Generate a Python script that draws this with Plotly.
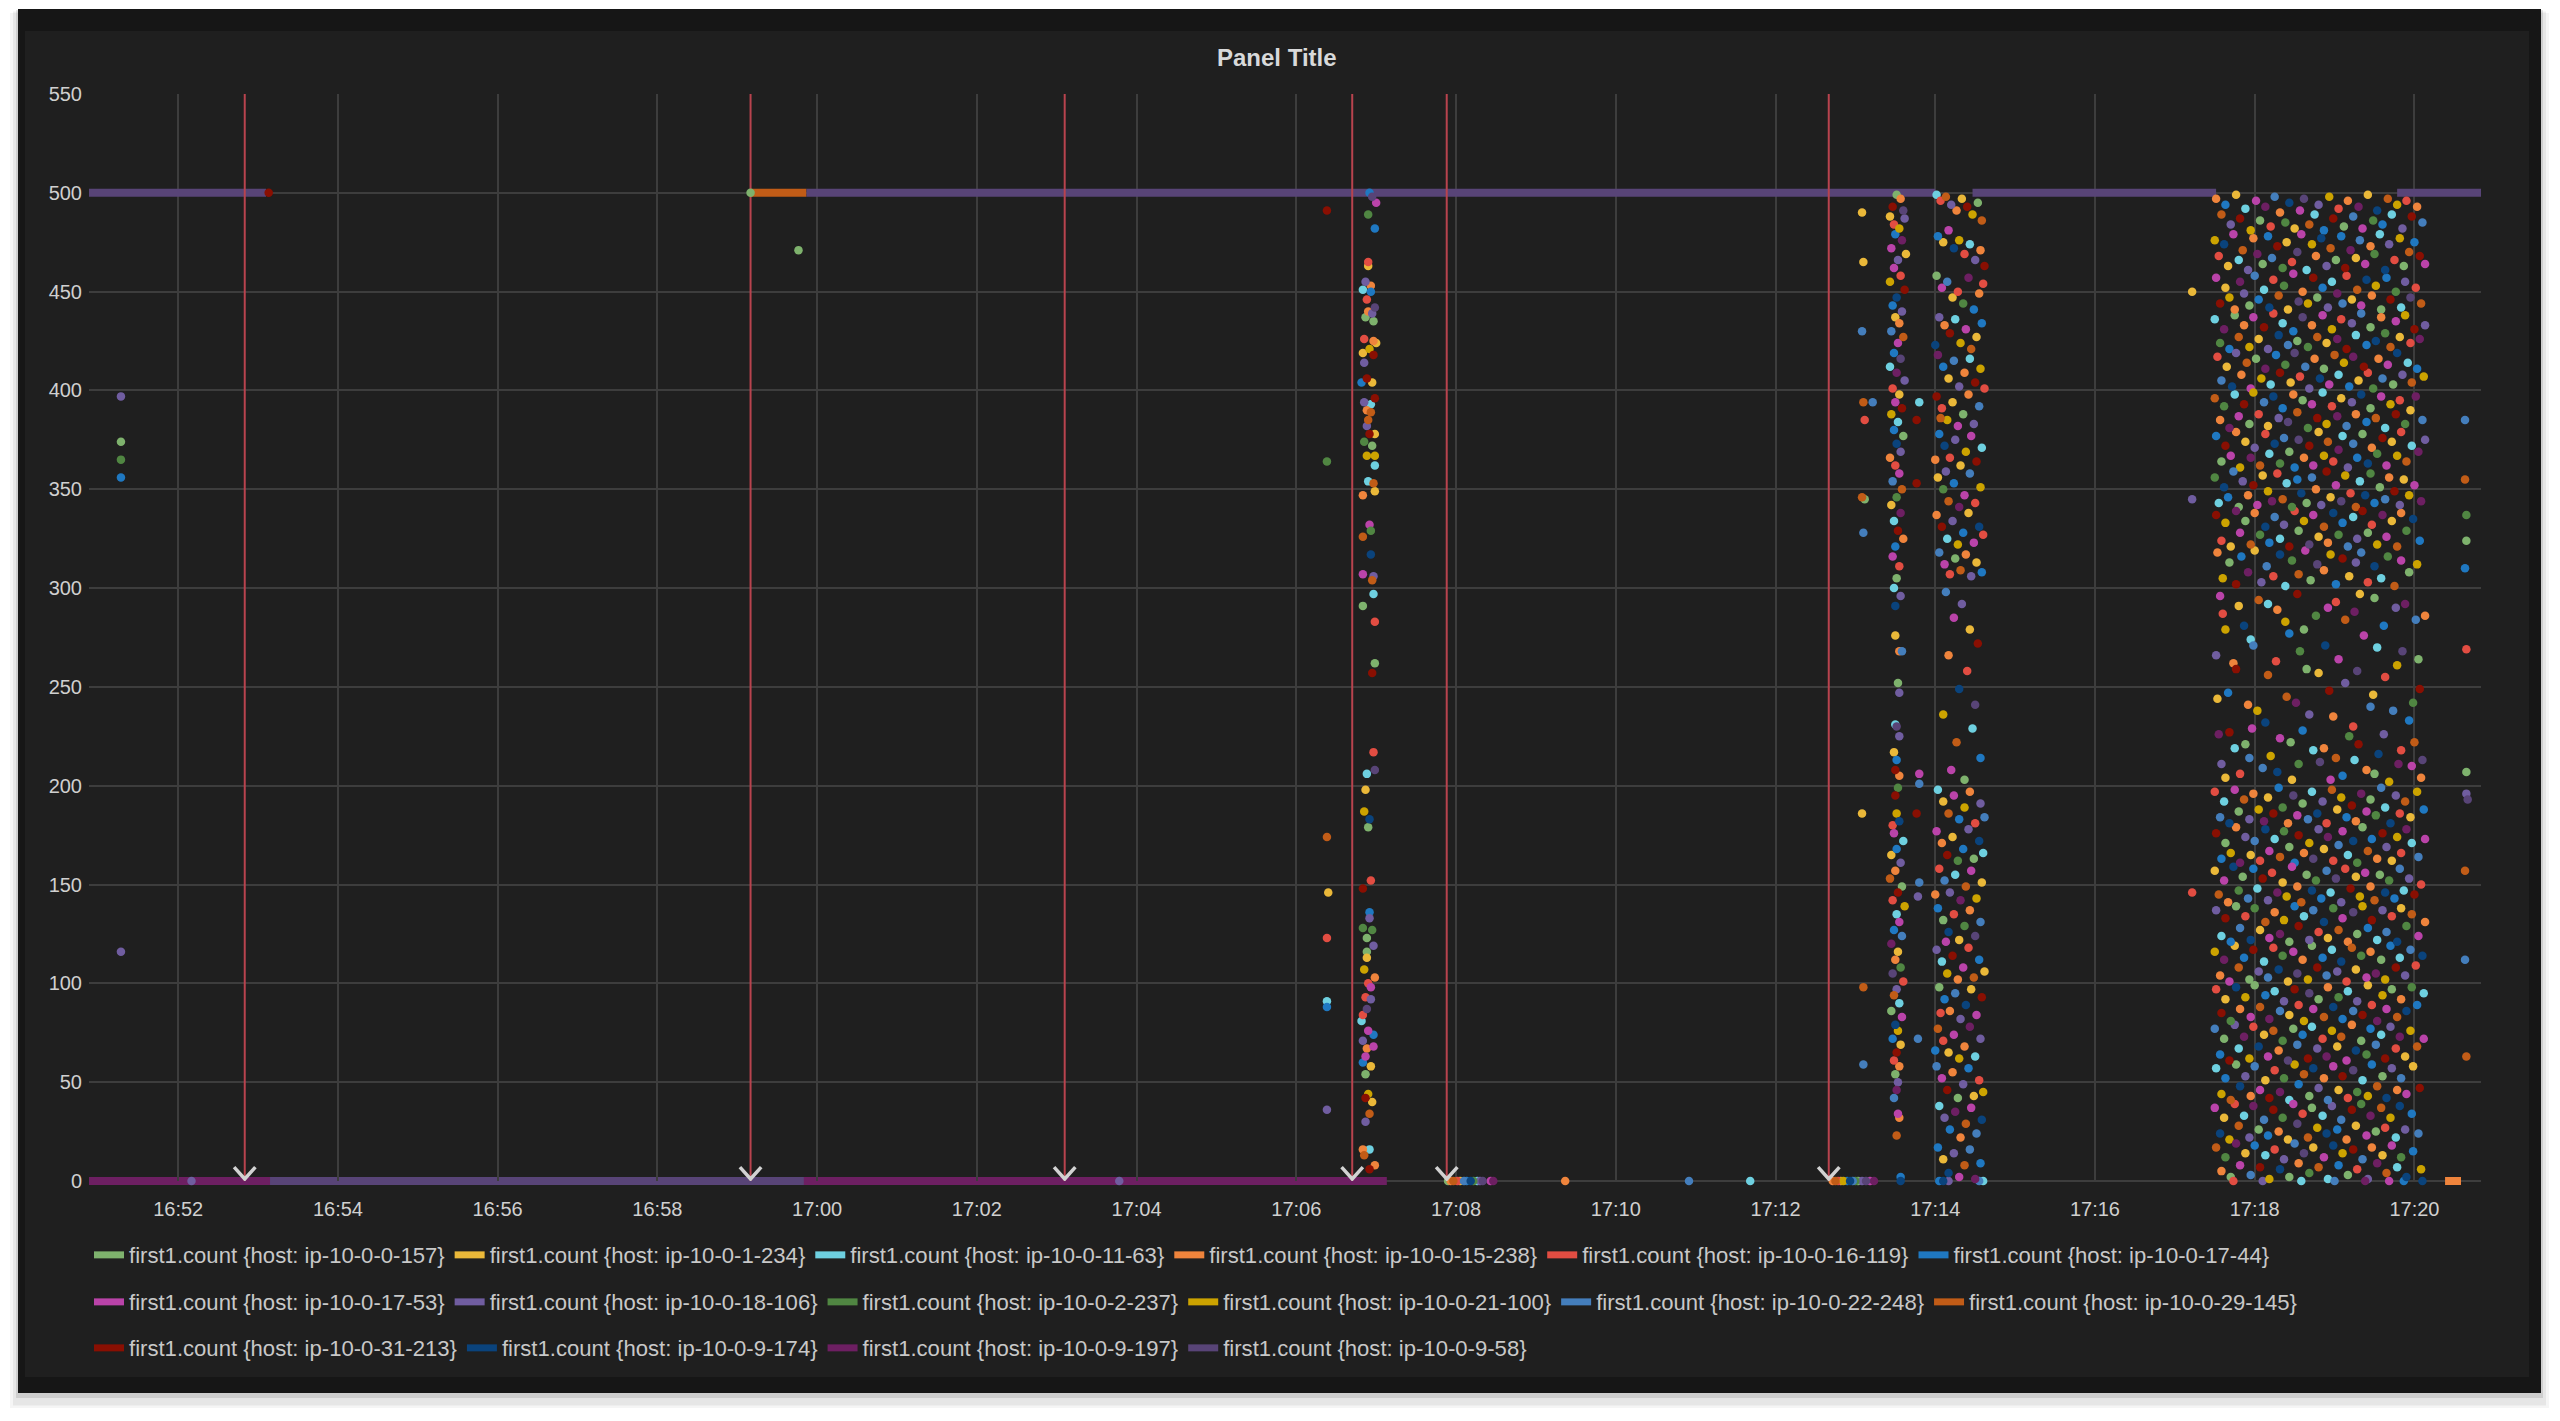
import pandas as pd
import plotly.graph_objects as go

DAY = "2017-03-15 "
Y_MAX = 550

hosts = ["ip-10-0-0-157", "ip-10-0-1-234", "ip-10-0-11-63", "ip-10-0-15-238",
         "ip-10-0-16-119", "ip-10-0-17-44", "ip-10-0-17-53", "ip-10-0-18-106",
         "ip-10-0-2-237", "ip-10-0-21-100", "ip-10-0-22-248", "ip-10-0-29-145",
         "ip-10-0-31-213", "ip-10-0-9-174", "ip-10-0-9-197", "ip-10-0-9-58"]
colors = ["#7EB26D", "#EAB839", "#6ED0E0", "#EF843C", "#E24D42", "#1F78C1",
          "#BA43A9", "#705DA0", "#508642", "#CCA300", "#447EBC", "#C15C17",
          "#890F02", "#0A437C", "#6D1F62", "#584477"]

# runs where one host kept reporting the same count (they show as thick bars)
band_host = [14, 15, 15, 11, 15, 15, 15, 3]
band_value = [0, 500, 0, 500, 500, 500, 500, 0]
band_start = ["16:50:53", "16:50:53", "16:53:09", "16:59:10", "16:59:52", "17:14:28", "17:19:47", "17:20:23"]
band_end = ["17:07:08", "16:53:06", "16:59:50", "16:59:52", "17:14:00", "17:17:31", "17:20:50", "17:20:35"]

# grafana annotations (red lines)
annot_times = ["16:52:50", "16:59:10", "17:03:06", "17:06:42", "17:07:53", "17:12:40"]

# single readings (time, value, host)
single_pts = [("16:51:17", 397, 7), ("16:51:17", 374, 0), ("16:51:17", 365, 8), ("16:51:17", 356, 5),
              ("16:51:17", 116, 7), ("16:53:08", 500, 12), ("16:52:10", 0, 7), ("17:03:47", 0, 7),
              ("16:59:10", 500, 0), ("16:59:46", 471, 0),
              ("17:17:13", 450, 1), ("17:17:13", 345, 7), ("17:17:13", 146, 4),
              ("17:20:38", 385, 10), ("17:20:38", 355, 11), ("17:20:39", 337, 8), ("17:20:39", 324, 0),
              ("17:20:38", 310, 5), ("17:20:39", 269, 4), ("17:20:39", 207, 0), ("17:20:39", 196, 7),
              ("17:20:40", 193, 15), ("17:20:38", 157, 11), ("17:20:38", 112, 10), ("17:20:39", 63, 11)]

# readings of zero between the bursts (time, host)
zero_pts = [("17:07:54", 0), ("17:07:56", 3), ("17:07:58", 11), ("17:08:01", 4), ("17:08:03", 1),
            ("17:08:06", 10), ("17:08:08", 5), ("17:08:11", 13), ("17:08:13", 8), ("17:08:16", 2),
            ("17:08:18", 7), ("17:08:20", 15), ("17:08:26", 6), ("17:08:28", 14),
            ("17:09:22", 3), ("17:10:55", 10), ("17:11:41", 2),
            ("17:12:43", 3), ("17:12:45", 11), ("17:12:47", 4), ("17:12:49", 1), ("17:12:51", 9),
            ("17:12:54", 5), ("17:12:56", 13), ("17:12:58", 10), ("17:13:00", 8), ("17:13:02", 0),
            ("17:13:05", 7), ("17:13:08", 15), ("17:13:11", 6), ("17:13:14", 14),
            ("17:13:34", 13), ("17:14:03", 5), ("17:14:06", 13), ("17:14:10", 7), ("17:14:33", 10), ("17:14:36", 2)]

# burst around 17:07 -> (seconds after 17:06:00, value, host)
burst_a = [(23,491,12),(23,364,8),(23,174,11),(24,146,1),(23,123,4),(23,91,2),(23,88,5),(23,36,7),
           (55,500,5),(57,498,15),(60,495,6),(54,489,8),(59,482,5),(54,465,4),(54,463,1),(52,455,7),
           (50,451,2),(56,453,3),(56,450,5),(53,446,4),(59,442,15),(54,440,3),(57,439,7),(52,437,0),
           (58,435,0),(51,426,4),(58,425,3),(60,424,1),(55,421,9),(50,419,1),(58,418,12),(51,414,7),
           (49,404,5),(53,406,12),(57,404,1),(59,396,12),(51,394,7),(56,393,2),(53,390,3),(56,389,11),
           (54,385,11),(53,382,7),(55,378,12),(59,378,1),(51,374,8),(57,372,0),(53,367,9),(59,367,9),
           (59,362,2),(54,354,2),(58,353,11),(50,347,3),(59,349,1),(55,332,6),(56,329,8),(50,326,11),
           (56,317,13),(50,307,6),(58,306,7),(57,304,11),(58,297,2),(50,291,0),(59,283,4),(59,262,0),
           (57,257,12),(58,217,4),(53,206,2),(59,208,15),(52,198,1),(51,187,9),(55,183,13),(54,179,0),
           (56,152,4),(50,148,12),(55,136,5),(55,133,7),(50,128,8),(57,127,8),(53,123,0),(58,119,7),
           (53,116,0),(53,113,1),(51,107,9),(59,103,3),(54,100,4),(56,98,6),(56,92,7),(52,93,4),
           (50,84,4),(53,87,15),(49,81,2),(54,76,6),(58,74,5),(50,71,7),(58,68,6),(53,67,3),
           (52,63,6),(50,60,5),(56,58,1),(52,54,0),(54,44,9),(52,42,12),(57,40,1),(55,34,11),
           (52,30,7),(55,16,2),(50,16,3),(51,13,11),(59,8,3),(55,6,12)]

# bursts around 17:13:30 and 17:14:20 -> (seconds after 17:13:00, value, host)
burst_b = [(5,490,1),(6,465,1),(5,430,10),(6,394,11),(13,394,10),(7,385,4),(5,346,11),(7,345,0),
           (6,328,10),(5,186,1),(6,98,11),(6,59,10),
           (48,394,2),(46,385,12),(46,353,12),(48,206,6),(48,201,10),(46,186,12),(48,151,10),(47,144,7),(47,72,10),
           (31,499,0),(34,497,3),(28,493,12),(36,491,15),(26,488,1),(37,487,7),(29,484,4),(33,482,9),
           (30,479,5),(35,476,14),(27,472,6),(38,469,1),(32,466,7),(29,462,6),(34,458,4),(26,455,9),
           (37,451,12),(31,447,13),(28,443,5),(35,440,7),(30,437,1),(33,434,3),(27,430,10),(36,427,11),
           (32,424,6),(29,419,5),(34,416,15),(26,412,2),(31,409,14),(37,405,7),(28,401,4),(33,398,1),
           (30,394,6),(35,391,12),(27,388,9),(32,384,2),(29,380,5),(36,377,0),(31,373,13),(34,369,7),
           (26,366,3),(30,362,4),(33,358,6),(28,354,10),(35,350,11),(31,346,8),(27,342,1),(34,338,14),
           (29,334,2),(32,329,12),(36,325,3),(30,321,5),(28,316,6),(33,311,4),(31,305,0),(29,300,2),
           (34,296,7),(30,291,13),
           (30,276,1),(33,268,3),(35,268,10),(32,252,0),(33,247,7),(30,231,2),(31,230,15),(33,225,7),
           (29,217,1),(31,213,5),(30,208,12),(33,205,3),(32,199,8),(30,195,12),(31,186,9),(28,180,4),
           (33,182,13),(29,176,6),(36,172,2),(31,168,5),(27,165,1),(34,161,7),(30,157,3),(26,153,11),
           (35,149,0),(32,146,12),(28,142,4),(37,139,9),(31,135,2),(33,131,6),(29,127,5),(35,124,10),
           (27,120,14),(32,116,1),(30,112,3),(34,108,8),(28,105,15),(36,101,4),(31,97,7),(29,94,11),
           (33,90,2),(27,86,0),(35,83,6),(30,79,13),(32,76,9),(28,72,5),(34,69,1),(31,65,12),
           (29,61,4),(33,58,3),(30,54,0),(32,50,7),(31,46,14),(29,42,10),(32,34,6),(33,32,3),
           (31,23,11),(34,2,5),
           (61,499,2),(64,496,4),(68,498,11),(72,494,7),(76,491,3),(80,497,1),(84,493,12),(88,489,9),
           (92,495,0),(95,486,11),(62,478,5),(66,475,1),(70,481,6),(74,472,13),(78,476,9),(82,469,4),
           (86,474,2),(90,466,7),(94,471,3),(97,463,12),(61,458,0),(65,452,6),(69,455,10),(73,447,1),
           (77,450,4),(81,444,8),(85,457,14),(89,441,5),(93,449,3),(96,454,4),(63,437,7),(67,433,3),
           (71,429,12),(75,436,2),(79,424,9),(83,431,6),(87,421,11),(91,427,1),(95,434,5),(60,423,13),
           (62,418,14),(66,412,5),(70,406,1),(74,415,10),(78,402,7),(82,409,3),(86,416,2),(90,404,12),
           (94,411,9),(97,401,4),(61,397,12),(65,391,4),(69,385,9),(73,394,1),(77,382,6),(81,388,0),
           (85,398,3),(89,383,7),(93,392,10),(64,386,11),(63,378,5),(67,372,13),(71,366,4),(75,375,7),
           (79,362,1),(83,369,9),(87,377,6),(91,364,12),(95,371,2),(60,365,3),(62,356,1),(66,350,8),
           (70,344,11),(74,353,5),(78,341,14),(82,347,6),(86,358,10),(90,343,4),(94,351,9),(68,359,7),
           (61,337,3),(65,331,12),(69,325,2),(73,334,7),(77,322,9),(81,328,5),(85,338,1),(89,323,6),
           (93,331,13),(96,327,4),(63,318,10),(67,312,6),(71,307,4),(75,315,0),(79,309,11),(83,317,3),
           (87,306,7),(91,313,1),(95,308,5),
           (68,298,10),(80,292,7),(74,285,6),(86,279,1),(92,272,12),(70,266,3),(84,258,4),(78,249,13),
           (90,241,15),(66,236,9),(88,229,2),(76,222,11),(94,214,5),(72,208,6),(82,203,0),
           (62,198,2),(66,192,1),(70,186,11),(74,195,6),(78,183,5),(82,189,9),(86,197,3),(90,181,4),
           (94,191,7),(97,184,10),(61,177,6),(65,171,3),(69,165,12),(73,174,1),(77,162,8),(81,168,5),
           (85,178,7),(89,163,0),(93,172,13),(96,166,2),(63,158,4),(67,152,10),(71,146,7),(75,155,2),
           (79,142,14),(83,149,11),(87,157,6),(91,143,9),(95,151,1),(60,145,3),(62,138,5),(66,132,0),
           (70,126,13),(74,135,4),(78,122,1),(82,129,8),(86,137,3),(90,124,15),(94,131,10),(68,121,6),
           (61,117,7),(65,111,2),(69,105,9),(73,114,12),(77,102,3),(81,108,6),(85,118,4),(89,103,11),
           (93,112,5),(97,106,1),(63,98,0),(67,92,5),(71,86,3),(75,95,10),(79,82,7),(83,89,13),
           (87,97,1),(91,84,6),(95,93,12),(64,85,4),(62,77,11),(66,71,4),(70,65,1),(74,74,6),
           (78,62,9),(82,68,3),(86,78,14),(90,63,2),(94,72,7),(60,66,5),(61,58,10),(65,52,6),
           (69,46,12),(73,55,3),(77,42,0),(81,49,7),(85,57,5),(89,43,1),(93,51,4),(96,45,9),
           (63,38,2),(67,32,7),(71,26,5),(75,35,14),(79,22,3),(83,29,11),(87,37,6),(91,24,10),
           (95,31,13),(62,17,5),(66,11,1),(70,4,13),(74,14,7),(78,2,6),(82,8,11),(86,16,10),
           (90,1,14),(94,9,5)]

# big burst 17:17:30 - 17:20:10 -> (seconds after 17:17:00, value, host)
burst_d = [(31,497,3),(35,489,11),(38,494,5),(42,484,7),(46,499,1),(49,487,12),(53,492,2),(57,481,9),
           (61,496,6),(64,486,0),(68,493,14),(72,483,4),(75,498,10),(79,490,3),(83,485,8),(86,495,13),
           (90,482,1),(94,491,6),(97,497,15),(101,484,11),(105,489,2),(108,494,7),(112,481,5),(116,498,9),
           (119,487,12),(123,492,4),(127,483,0),(130,496,3),(134,488,10),(138,493,14),(141,482,6),(145,499,1),
           (149,486,8),(152,491,13),(156,484,5),(160,497,11),(163,489,2),(167,494,9),(171,482,7),(174,496,4),
           (178,488,12),(182,493,3),(186,485,10),
           (30,476,9),(33,468,4),(37,474,13),(40,463,1),(44,479,6),(48,466,2),(51,471,11),(55,461,7),
           (59,477,3),(62,469,14),(66,464,0),(70,478,5),(73,467,10),(77,473,12),(81,462,8),(84,475,1),
           (88,465,4),(92,470,15),(95,479,6),(99,461,2),(103,474,9),(106,468,3),(110,477,13),(114,463,7),
           (117,472,11),(121,466,0),(125,478,5),(128,462,12),(132,471,14),(136,467,1),(139,476,10),(143,464,6),
           (147,473,3),(150,469,8),(154,479,2),(158,461,13),(161,474,7),(165,466,4),(169,477,9),(172,463,0),
           (176,470,11),(180,475,5),(184,468,12),(188,464,6),
           (31,457,6),(34,444,12),(38,452,1),(41,447,9),(45,441,3),(49,455,14),(52,449,7),(56,443,0),
           (60,458,10),(63,446,5),(67,451,2),(71,442,13),(74,456,4),(78,448,11),(82,453,8),(85,441,1),
           (89,459,6),(93,445,15),(96,450,3),(100,444,9),(104,457,12),(107,447,0),(111,452,5),(115,442,7),
           (118,455,2),(122,449,14),(126,444,10),(129,458,4),(133,446,1),(137,451,11),(140,443,6),(144,456,13),
           (148,448,3),(151,453,9),(155,441,0),(159,457,5),(162,446,12),(166,450,8),(170,442,2),(173,455,7),
           (177,447,15),(181,452,4),(185,444,11),
           (30,436,2),(34,424,8),(37,431,14),(41,421,5),(45,438,0),(48,427,11),(52,433,3),(56,422,9),
           (59,437,6),(63,426,1),(67,432,12),(70,421,7),(74,439,4),(78,428,13),(81,434,2),(85,423,10),
           (89,430,5),(92,425,0),(96,437,15),(100,422,8),(103,433,3),(107,427,11),(111,438,6),(114,424,1),
           (118,431,9),(122,426,14),(125,436,4),(129,421,12),(133,434,7),(136,428,2),(140,439,10),(144,423,5),
           (147,432,0),(151,425,13),(155,437,3),(158,429,8),(162,422,11),(166,435,6),(169,427,1),(173,438,9),
           (177,424,4),(180,431,12),(184,426,14),(188,433,7),
           (32,417,4),(35,405,10),(39,412,1),(43,402,13),(46,419,7),(50,408,3),(54,414,11),(57,401,6),
           (61,416,0),(65,406,9),(68,411,14),(72,403,2),(76,418,5),(79,409,12),(83,413,8),(87,404,1),
           (90,419,15),(94,407,4),(98,412,10),(101,401,7),(105,416,3),(109,406,13),(112,411,0),(116,403,6),
           (120,418,11),(123,408,2),(127,414,9),(131,402,5),(134,417,14),(138,405,1),(142,412,12),(145,409,4),
           (149,401,8),(153,416,3),(156,406,10),(160,413,6),(164,403,0),(167,419,13),(171,408,7),(175,414,2),
           (178,404,11),(182,411,5),(187,407,9),
           (30,396,11),(34,385,3),(37,392,8),(41,381,14),(45,398,2),(48,387,6),(52,393,12),(56,383,0),
           (59,399,9),(63,388,4),(67,394,10),(70,382,1),(74,397,13),(78,386,7),(81,391,5),(85,384,15),
           (89,398,3),(92,389,11),(96,395,0),(100,381,8),(103,393,6),(107,386,12),(111,399,2),(114,383,9),
           (118,392,4),(122,387,14),(125,396,1),(129,382,10),(133,394,7),(136,388,3),(140,398,13),(144,384,5),
           (147,391,0),(151,386,11),(155,397,6),(158,381,2),(162,393,9),(166,388,12),(169,395,4),(173,383,8),
           (177,390,1),(181,397,14),(186,385,10),
           (31,377,5),(35,364,0),(38,372,12),(42,367,6),(46,379,3),(49,361,9),(53,374,1),(57,366,14),
           (60,371,7),(64,362,11),(68,378,4),(71,368,2),(75,373,13),(79,363,8),(82,376,10),(86,369,0),
           (90,361,5),(93,375,15),(97,366,3),(101,372,12),(104,362,6),(108,379,1),(112,367,9),(115,374,11),
           (119,364,4),(123,370,14),(126,377,2),(130,361,7),(134,373,10),(137,366,5),(141,378,0),(145,363,13),
           (148,371,3),(152,368,8),(156,376,12),(159,362,6),(163,374,1),(167,367,9),(170,379,4),(174,364,11),
           (178,372,2),(183,369,14),(188,375,7),
           (30,356,8),(33,343,2),(37,351,13),(40,346,5),(44,359,10),(48,341,0),(51,354,7),(55,347,3),
           (59,352,12),(62,342,6),(66,357,1),(70,349,9),(73,344,14),(77,358,4),(81,345,11),(84,353,2),
           (88,341,8),(92,355,5),(95,348,13),(99,343,0),(103,356,10),(106,350,3),(110,342,7),(114,359,12),
           (117,346,1),(121,352,6),(125,344,15),(128,357,9),(132,348,4),(136,341,11),(139,354,2),(143,347,13),
           (147,358,8),(150,343,5),(154,351,0),(158,345,10),(161,356,3),(165,349,12),(169,342,7),(172,355,1),
           (176,347,9),(180,352,6),(185,344,14),
           (31,337,12),(35,324,4),(38,333,9),(42,321,1),(46,339,14),(49,328,6),(53,334,0),(57,322,11),
           (60,338,3),(64,327,8),(68,331,13),(71,323,5),(75,336,10),(79,325,2),(82,332,7),(86,321,12),
           (90,339,4),(93,329,0),(97,334,9),(101,322,15),(104,337,6),(108,326,1),(112,331,11),(115,323,3),
           (119,338,13),(123,327,8),(126,333,5),(130,321,10),(134,336,2),(137,325,7),(141,339,12),(145,328,0),
           (148,332,4),(152,322,9),(156,337,14),(159,326,6),(163,334,1),(167,321,11),(170,338,3),(174,329,8),
           (179,335,13),(184,324,5),
           (32,318,3),(36,305,9),(41,313,0),(46,302,12),(50,316,5),(55,308,14),(60,319,1),(65,303,7),
           (69,311,10),(74,306,4),(79,317,13),(83,301,2),(88,314,8),(93,307,11),(98,319,6),(102,304,0),
           (107,312,15),(112,309,3),(117,317,9),(121,302,5),(126,315,12),(131,306,1),(136,313,7),(140,318,10),
           (145,303,4),(150,311,13),(155,305,2),(160,316,8),(165,301,11),(170,314,6),(176,308,0),(182,312,9),
           (34,296,6),(48,291,1),(63,294,11),(77,289,3),(92,297,12),(106,286,8),(121,293,4),(135,288,14),
           (150,295,0),(166,290,7),(181,284,10),(38,279,9),(57,274,2),(86,277,5),(113,271,13),(142,276,6),
           (171,268,15),(44,262,3),(70,256,11),(99,259,0),(128,252,7),(158,255,4),(184,249,12),(32,244,1),
           (62,238,9),(91,242,14),(119,235,3),(147,240,10),(176,233,5),(41,227,12),(53,221,0),(79,224,6),
           (104,218,2),(131,225,8),(153,216,13),(180,222,11),(35,211,7),(49,206,4),(66,209,10),(88,203,1),
           (109,212,15),(126,205,5),(144,208,3),(161,202,9),(178,210,6),
           (36,287,4),(52,281,13),(70,292,2),(83,283,9),(97,279,0),(115,290,6),(128,284,11),(139,297,1),
           (157,281,5),(173,292,14),(188,286,3),(31,266,7),(46,259,12),(59,271,10),(76,263,4),(94,268,8),
           (108,257,1),(123,264,6),(137,258,15),(152,270,2),(167,261,9),(183,264,0),(40,247,5),(55,241,3),
           (68,232,13),(84,245,11),(101,236,7),(116,248,12),(134,230,4),(149,246,1),(164,238,10),(179,242,8),
           (33,226,14),(45,219,2),(58,229,6),(72,215,9),(87,222,0),(96,228,5),(112,219,3),(121,214,11),
           (138,221,12),(157,226,7),(170,218,4),(186,213,15),(38,204,1),(56,214,10),(77,207,13),(93,211,8),
           (117,203,6),(135,213,2),(150,206,0),(168,211,14),(185,204,3),
           (30,197,4),(34,184,10),(37,192,2),(41,181,13),(45,198,6),(48,187,0),(52,193,11),(56,183,7),
           (59,196,3),(63,188,9),(67,182,14),(70,194,1),(74,186,12),(78,199,5),(81,189,8),(85,181,3),
           (89,195,15),(92,185,6),(96,191,0),(100,183,10),(103,197,2),(107,186,13),(111,192,7),(114,181,4),
           (118,198,11),(122,188,1),(125,194,9),(129,184,5),(133,190,12),(136,182,3),(140,196,14),(144,187,6),
           (147,193,0),(151,185,8),(155,199,10),(158,189,2),(162,181,13),(166,195,7),(169,186,4),(173,192,11),
           (177,184,1),(182,197,9),(187,188,5),
           (31,176,12),(35,163,5),(38,171,0),(42,166,9),(46,179,3),(49,161,14),(53,174,7),(57,165,1),
           (60,172,10),(64,162,4),(68,178,13),(71,167,6),(75,173,2),(79,164,11),(82,177,8),(86,169,0),
           (90,161,5),(93,175,12),(97,166,3),(101,171,9),(104,163,15),(108,178,7),(112,168,1),(115,174,14),
           (119,162,4),(123,170,10),(126,177,6),(130,165,2),(134,172,13),(137,161,8),(141,179,0),(145,167,11),
           (148,173,5),(152,163,3),(156,176,12),(159,169,7),(163,162,1),(167,174,9),(170,166,4),(174,178,14),
           (178,171,2),(183,164,10),(188,173,6),
           (30,157,1),(33,145,11),(37,152,6),(40,141,3),(44,159,13),(48,147,8),(51,154,0),(55,143,10),
           (59,158,5),(62,148,2),(66,153,12),(70,142,7),(73,156,4),(77,146,14),(81,151,1),(84,144,9),
           (88,159,6),(92,149,3),(95,141,11),(99,155,0),(103,147,13),(106,152,8),(110,143,5),(114,157,10),
           (117,146,2),(121,153,15),(125,141,7),(128,158,4),(132,148,12),(136,154,1),(139,144,9),(143,156,6),
           (147,149,3),(150,142,11),(154,155,0),(158,146,13),(161,152,8),(165,143,5),(169,158,10),(172,147,2),
           (176,153,7),(180,145,12),(185,150,4),
           (31,137,7),(35,124,2),(38,133,12),(42,121,5),(46,139,0),(49,128,10),(53,134,4),(57,122,13),
           (60,138,8),(64,127,1),(68,131,11),(71,123,6),(75,136,3),(79,125,14),(82,132,9),(86,121,0),
           (90,139,5),(93,129,12),(97,134,2),(101,122,7),(104,137,10),(108,126,4),(112,131,13),(115,123,1),
           (119,138,8),(123,127,11),(126,133,6),(130,121,3),(134,136,15),(137,125,0),(141,139,9),(145,128,5),
           (148,132,12),(152,122,2),(156,137,7),(159,126,10),(163,134,4),(167,121,13),(170,138,1),(174,129,8),
           (178,135,11),(183,124,6),(188,131,3),
           (30,116,9),(34,104,3),(37,112,14),(41,101,6),(45,119,1),(48,108,11),(52,113,5),(56,102,0),
           (59,117,12),(63,106,7),(67,111,2),(70,103,10),(74,118,4),(78,107,13),(81,114,8),(85,101,1),
           (89,116,6),(92,105,15),(96,112,3),(100,102,9),(103,119,0),(107,108,12),(111,113,5),(114,104,10),
           (118,117,2),(122,106,7),(125,111,13),(129,101,4),(133,118,11),(136,107,1),(140,114,8),(144,103,6),
           (147,116,3),(151,105,14),(155,112,0),(158,102,9),(162,119,5),(166,108,12),(169,113,2),(173,104,7),
           (177,117,10),(181,109,4),(186,114,13),
           (31,97,4),(35,85,12),(38,92,1),(42,81,8),(46,98,13),(49,87,3),(53,93,9),(57,83,6),
           (60,99,0),(64,88,11),(68,94,5),(71,82,14),(75,96,2),(79,86,10),(82,91,7),(86,84,1),
           (90,97,12),(93,89,4),(97,81,9),(101,95,15),(104,87,6),(108,92,0),(112,83,11),(115,98,3),
           (119,88,13),(123,93,8),(126,82,5),(130,96,2),(134,86,10),(137,91,7),(141,84,12),(145,99,1),
           (148,89,4),(152,81,14),(156,94,9),(159,87,6),(163,97,0),(167,83,11),(170,92,3),(174,86,13),
           (178,98,8),(182,89,5),(187,95,2),
           (30,77,10),(34,64,5),(37,72,0),(41,61,12),(45,79,7),(48,67,2),(52,73,14),(56,62,9),
           (59,78,4),(63,68,13),(67,74,1),(70,63,6),(74,76,11),(78,66,3),(81,71,8),(85,61,15),
           (89,77,0),(92,69,10),(96,74,5),(100,62,12),(103,78,2),(107,67,7),(111,72,4),(114,63,14),
           (118,76,9),(122,68,1),(125,73,11),(129,61,6),(133,79,3),(136,66,13),(140,71,0),(144,64,8),
           (147,77,5),(151,69,10),(155,74,2),(158,62,12),(162,78,7),(166,67,4),(169,73,14),(173,63,1),
           (177,76,9),(182,68,11),(187,72,6),
           (31,57,2),(35,44,9),(38,52,5),(42,41,11),(46,59,0),(49,48,13),(53,53,7),(57,43,3),
           (60,58,10),(64,46,6),(68,51,1),(71,42,12),(75,56,4),(79,45,14),(82,52,8),(86,41,2),
           (90,59,9),(93,49,5),(97,54,11),(101,43,0),(104,57,13),(108,47,7),(112,52,3),(115,41,10),
           (119,58,6),(123,46,1),(126,53,12),(130,42,4),(134,56,15),(137,45,8),(141,51,2),(145,43,9),
           (148,59,5),(152,48,11),(156,53,0),(159,42,13),(163,57,7),(167,46,3),(170,52,10),(174,44,6),
           (179,58,1),(184,47,12),
           (30,37,6),(34,24,13),(37,32,1),(41,21,9),(45,39,4),(48,28,11),(52,33,2),(56,22,7),
           (59,38,14),(63,26,0),(67,31,10),(70,23,5),(74,36,12),(78,25,3),(81,32,8),(85,21,1),
           (89,39,6),(92,29,15),(96,34,4),(100,22,11),(103,37,0),(107,27,9),(111,33,2),(114,24,13),
           (118,38,7),(122,26,5),(125,31,10),(129,21,3),(133,36,12),(136,28,1),(140,39,8),(144,23,6),
           (147,33,14),(151,25,0),(155,37,11),(158,27,4),(162,32,9),(166,22,2),(169,38,13),(173,26,7),
           (178,34,5),(183,24,10),
           (31,17,11),(35,5,3),(38,12,8),(42,2,0),(46,19,14),(49,8,6),(53,14,1),(57,3,10),
           (60,18,5),(64,7,12),(68,13,2),(71,1,9),(75,16,4),(79,6,13),(82,11,7),(86,2,0),
           (90,19,10),(93,9,3),(97,14,15),(101,4,8),(104,17,1),(108,7,11),(112,12,6),(115,1,2),
           (119,18,13),(123,8,5),(126,14,9),(130,3,0),(134,16,12),(137,6,4),(141,11,10),(145,1,7),
           (148,17,3),(152,9,14),(156,13,1),(159,4,11),(163,18,6),(167,7,2),(170,12,8),(174,2,13),
           (179,15,5),(185,6,9),
           (44,0,4),(66,0,7),(95,0,2),(120,0,10),(143,0,14),(161,0,6),(172,0,5),(186,0,13)]

bursts = [("17:06:00", burst_a), ("17:13:00", burst_b), ("17:17:00", burst_d)]


def ts(hms):
    return pd.Timestamp(DAY + hms)


# figure geometry (px) - plot area sits at left 81 / top 86 inside a 2544 x 1400 figure
W, H = 2544, 1400
L, R, T, B = 81, 71, 86, 227
PW, PH = W - L - R, H - T - B
GRID = "#3d3d3d"


def px(x):
    return (x - L) / PW


def py(y):
    return (H - B - y) / PH


# collect points per host
xs = [[] for _ in hosts]
ys = [[] for _ in hosts]
for anchor, pts in bursts:
    t0 = ts(anchor)
    for sec, val, h in pts:
        xs[h].append(t0 + pd.Timedelta(seconds=sec))
        ys[h].append(val)
for hms, val, h in single_pts:
    xs[h].append(ts(hms))
    ys[h].append(val)
for hms, h in zero_pts:
    xs[h].append(ts(hms))
    ys[h].append(0)

fig = go.Figure()

for h in range(len(hosts)):
    fig.add_trace(go.Scatter(x=xs[h], y=ys[h], mode="markers", name=hosts[h],
                             marker=dict(color=colors[h], size=8.5, line=dict(width=0)),
                             showlegend=False, cliponaxis=False))

# annotation chevrons at the bottom of each red line
cx, cy = [], []
for a in annot_times:
    t = ts(a)
    cx += [t - pd.Timedelta(seconds=8), t, t + pd.Timedelta(seconds=8), None]
    cy += [7, 1, 7, None]
fig.add_trace(go.Scatter(x=cx, y=cy, mode="lines", line=dict(color="#d2d2d2", width=3.5),
                         showlegend=False, cliponaxis=False, hoverinfo="skip"))

# legend entries (three rows like grafana)
legend_rows = [range(0, 6), range(6, 12), range(12, 16)]
legend_ids = ["legend", "legend2", "legend3"]
for row, lid in zip(legend_rows, legend_ids):
    for h in row:
        fig.add_trace(go.Scatter(x=[None], y=[None], mode="lines", name="first1.count {host: %s}" % hosts[h],
                                 line=dict(color=colors[h], width=7), legend=lid))

shapes = []
# drop shadow + outer frame + panel
for grow, alpha in [(8, 0.04), (5, 0.06), (2, 0.10)]:
    shapes.append(dict(type="rect", xref="paper", yref="paper", layer="below",
                       x0=px(10 - grow), x1=px(2533 + grow), y0=py(1385 + grow * 2.5), y1=py(1 + grow * 0.5),
                       line=dict(width=0), fillcolor="rgba(0,0,0,%s)" % alpha))
shapes.append(dict(type="rect", xref="paper", yref="paper", layer="below",
                   x0=px(10), x1=px(2533), y0=py(1385), y1=py(1),
                   line=dict(width=0), fillcolor="#161616"))
shapes.append(dict(type="rect", xref="paper", yref="paper", layer="below",
                   x0=px(17), x1=px(2521), y0=py(1369), y1=py(23),
                   line=dict(width=0), fillcolor="#1f1f1f"))
# the 0 grid line, drawn here so the bars lying on 0 can cover it
shapes.append(dict(type="line", xref="paper", yref="paper", layer="below",
                   x0=0, x1=1, y0=0, y1=0, line=dict(color=GRID, width=2)))

# flat runs as thick bars. Bars on 0 use the paper scale (axis spans 0..Y_MAX over the
# full plot height) so they are clipped only left/right and not cut in half.
order = sorted(range(len(band_host)), key=lambda k: band_host[k])
for i in order:
    if band_value[i] == 0:
        shapes.append(dict(type="line", xref="x", yref="paper", layer="below",
                           x0=ts(band_start[i]), x1=ts(band_end[i]), y0=0, y1=0,
                           line=dict(color=colors[band_host[i]], width=8)))
for i in order:
    if band_value[i] != 0:
        shapes.append(dict(type="line", xref="x", yref="y", layer="between",
                           x0=ts(band_start[i]), x1=ts(band_end[i]), y0=band_value[i], y1=band_value[i],
                           line=dict(color=colors[band_host[i]], width=8)))

for a in annot_times:
    shapes.append(dict(type="line", xref="x", yref="y", layer="between",
                       x0=ts(a), x1=ts(a), y0=0, y1=Y_MAX, line=dict(color="#b8434e", width=2)))

legend_style = dict(orientation="h", xanchor="left", yanchor="middle", x=px(81),
                    bgcolor="rgba(0,0,0,0)", itemwidth=30,
                    font=dict(family="Liberation Sans, Arial, sans-serif", size=22.1, color="#c8c8c8"))

fig.update_layout(
    width=W, height=H,
    margin=dict(l=L, r=R, t=T, b=B),
    paper_bgcolor="#ffffff",
    plot_bgcolor="rgba(0,0,0,0)",
    font=dict(family="Liberation Sans, Arial, sans-serif", size=20, color="#d0d0d0"),
    shapes=shapes,
    showlegend=True,
    legend=dict(legend_style, y=py(1247)),
    legend2=dict(legend_style, y=py(1294)),
    legend3=dict(legend_style, y=py(1340)),
    annotations=[dict(text="<b>Panel Title</b>", xref="paper", yref="paper", x=px(1269), y=py(49),
                      showarrow=False, xanchor="center", yanchor="middle",
                      font=dict(size=24, color="#d8d9da"))],
    xaxis=dict(type="date", range=[ts("16:50:53"), ts("17:20:50")],
               tick0=ts("16:52:00"), dtick=120000, tickformat="%H:%M",
               showgrid=True, gridcolor=GRID, gridwidth=2, zeroline=False,
               showline=False, ticks="", ticklabelstandoff=14,
               tickfont=dict(size=20, color="#d0d0d0")),
    yaxis=dict(range=[0, Y_MAX], dtick=50, tick0=0,
               showgrid=True, gridcolor=GRID, gridwidth=2,
               zeroline=True, zerolinecolor="rgba(0,0,0,0)", zerolinewidth=2,
               showline=False, ticks="", ticklabelstandoff=6,
               tickfont=dict(size=20, color="#d0d0d0")),
)

fig.write_html("out.html")
